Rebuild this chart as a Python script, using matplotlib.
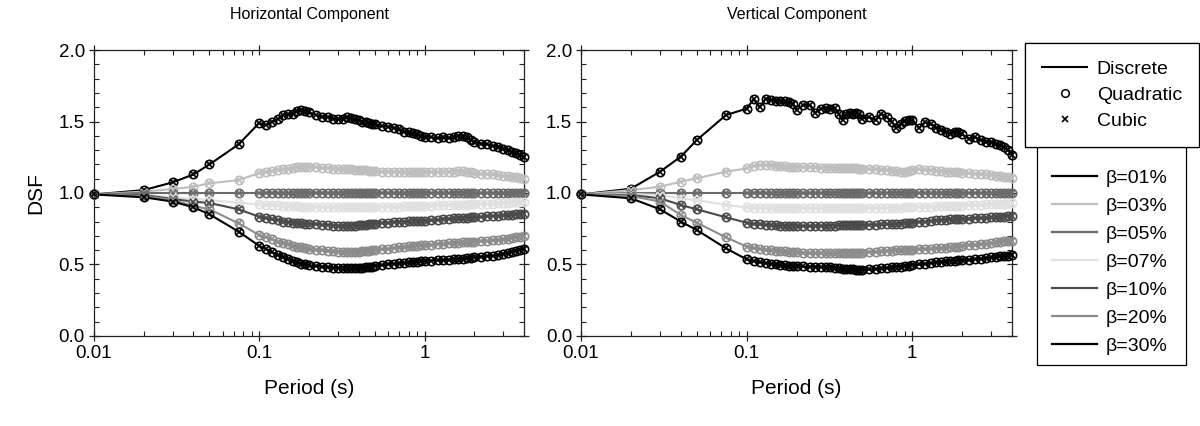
import matplotlib
matplotlib.use("Agg")
import matplotlib.pyplot as plt
from matplotlib.lines import Line2D
from matplotlib.patches import Rectangle
from matplotlib.ticker import FixedLocator, FixedFormatter, MultipleLocator, LogLocator, NullFormatter

plt.rcParams['font.family'] = ['Liberation Sans', 'DejaVu Sans']

# ---------------- data ----------------
periods = [0.01, 0.02, 0.03, 0.04, 0.05, 0.075,
           0.10, 0.11, 0.12, 0.13, 0.14, 0.15, 0.16, 0.17, 0.18, 0.19,
           0.20, 0.22, 0.24, 0.26, 0.28, 0.30, 0.32, 0.34, 0.36, 0.38,
           0.40, 0.42, 0.44, 0.46, 0.48, 0.50, 0.55, 0.60, 0.65, 0.70,
           0.75, 0.80, 0.85, 0.90, 0.95, 1.0, 1.1, 1.2, 1.3, 1.4,
           1.5, 1.6, 1.7, 1.8, 1.9, 2.0, 2.2, 2.4, 2.6, 2.8,
           3.0, 3.2, 3.4, 3.6, 3.8, 4.0]

damping_labels = ['β=01%', 'β=03%', 'β=05%', 'β=07%', 'β=10%', 'β=20%', 'β=30%']

# Horizontal component
h_b01 = [0.99, 1.02, 1.075, 1.13, 1.20, 1.34,
         1.49, 1.475, 1.50, 1.515, 1.545, 1.55, 1.555, 1.575, 1.58, 1.575,
         1.565, 1.545, 1.535, 1.53, 1.52, 1.515, 1.52, 1.53, 1.525, 1.515,
         1.51, 1.50, 1.50, 1.49, 1.485, 1.48, 1.47, 1.465, 1.455, 1.445,
         1.43, 1.425, 1.42, 1.41, 1.40, 1.395, 1.39, 1.385, 1.39, 1.385,
         1.39, 1.40, 1.40, 1.39, 1.37, 1.36, 1.345, 1.34, 1.33, 1.32,
         1.31, 1.30, 1.29, 1.28, 1.265, 1.255]
h_b03 = [0.99, 1.01, 1.028, 1.044, 1.068, 1.09,
         1.14, 1.15, 1.155, 1.16, 1.165, 1.17, 1.175, 1.18, 1.18, 1.18,
         1.18, 1.18, 1.175, 1.175, 1.17, 1.17, 1.17, 1.165, 1.165, 1.16,
         1.16, 1.16, 1.16, 1.155, 1.155, 1.155, 1.15, 1.15, 1.15, 1.15,
         1.145, 1.145, 1.145, 1.145, 1.145, 1.145, 1.145, 1.145, 1.15, 1.15,
         1.15, 1.155, 1.155, 1.15, 1.145, 1.14, 1.135, 1.13, 1.13, 1.125,
         1.12, 1.12, 1.115, 1.11, 1.105, 1.10]
h_b05 = [0.99, 1.0, 1.0, 1.0, 1.0, 1.0,
         1.0, 1.0, 1.0, 1.0, 1.0, 1.0, 1.0, 1.0, 1.0, 1.0,
         1.0, 1.0, 1.0, 1.0, 1.0, 1.0, 1.0, 1.0, 1.0, 1.0,
         1.0, 1.0, 1.0, 1.0, 1.0, 1.0, 1.0, 1.0, 1.0, 1.0,
         1.0, 1.0, 1.0, 1.0, 1.0, 1.0, 1.0, 1.0, 1.0, 1.0,
         1.0, 1.0, 1.0, 1.0, 1.0, 1.0, 1.0, 1.0, 1.0, 1.0,
         1.0, 1.0, 1.0, 1.0, 1.0, 1.0]
h_b07 = [0.99, 0.986, 0.97, 0.958, 0.951, 0.932,
         0.92, 0.918, 0.915, 0.913, 0.911, 0.91, 0.908, 0.906, 0.905, 0.904,
         0.903, 0.902, 0.901, 0.90, 0.90, 0.90, 0.90, 0.90, 0.90, 0.90,
         0.90, 0.90, 0.90, 0.90, 0.901, 0.902, 0.903, 0.904, 0.905, 0.905,
         0.906, 0.907, 0.908, 0.909, 0.91, 0.91, 0.912, 0.914, 0.915, 0.915,
         0.916, 0.917, 0.918, 0.919, 0.92, 0.92, 0.922, 0.924, 0.926, 0.928,
         0.93, 0.932, 0.934, 0.936, 0.938, 0.94]
h_b10 = [0.99, 0.986, 0.958, 0.94, 0.93, 0.886,
         0.834, 0.825, 0.815, 0.81, 0.80, 0.795, 0.792, 0.79, 0.788, 0.786,
         0.785, 0.782, 0.778, 0.775, 0.772, 0.77, 0.77, 0.77, 0.771, 0.772,
         0.775, 0.777, 0.779, 0.781, 0.783, 0.785, 0.79, 0.793, 0.796, 0.80,
         0.80, 0.801, 0.802, 0.803, 0.804, 0.805, 0.808, 0.812, 0.816, 0.82,
         0.822, 0.824, 0.826, 0.828, 0.829, 0.83, 0.833, 0.836, 0.839, 0.842,
         0.845, 0.847, 0.849, 0.851, 0.853, 0.855]
h_b20 = [0.99, 0.979, 0.951, 0.909, 0.886, 0.788,
         0.706, 0.69, 0.675, 0.66, 0.65, 0.64, 0.632, 0.625, 0.62, 0.615,
         0.61, 0.604, 0.599, 0.595, 0.592, 0.59, 0.589, 0.588, 0.588, 0.589,
         0.59, 0.592, 0.594, 0.596, 0.598, 0.60, 0.605, 0.61, 0.615, 0.62,
         0.623, 0.626, 0.629, 0.632, 0.634, 0.635, 0.638, 0.641, 0.644, 0.647,
         0.65, 0.652, 0.654, 0.656, 0.658, 0.66, 0.663, 0.666, 0.669, 0.672,
         0.675, 0.68, 0.685, 0.69, 0.695, 0.70]
h_b30 = [0.99, 0.97, 0.94, 0.90, 0.851, 0.73,
         0.63, 0.61, 0.585, 0.565, 0.55, 0.535, 0.525, 0.515, 0.505, 0.50,
         0.495, 0.49, 0.485, 0.48, 0.478, 0.475, 0.474, 0.474, 0.474, 0.475,
         0.475, 0.477, 0.479, 0.481, 0.485, 0.49, 0.495, 0.50, 0.505, 0.508,
         0.511, 0.515, 0.518, 0.52, 0.522, 0.525, 0.527, 0.529, 0.531, 0.533,
         0.535, 0.537, 0.54, 0.543, 0.546, 0.55, 0.555, 0.558, 0.562, 0.566,
         0.575, 0.582, 0.589, 0.596, 0.603, 0.61]

# Vertical component
v_b01 = [0.99, 1.03, 1.149, 1.254, 1.37, 1.545,
         1.59, 1.655, 1.60, 1.66, 1.65, 1.645, 1.645, 1.64, 1.635, 1.625,
         1.58, 1.615, 1.615, 1.56, 1.59, 1.595, 1.59, 1.595, 1.55, 1.51,
         1.555, 1.56, 1.555, 1.56, 1.55, 1.52, 1.53, 1.51, 1.555, 1.53,
         1.50, 1.455, 1.48, 1.505, 1.51, 1.51, 1.455, 1.495, 1.48, 1.455,
         1.44, 1.43, 1.415, 1.43, 1.43, 1.41, 1.38, 1.39, 1.37, 1.36,
         1.355, 1.34, 1.335, 1.32, 1.30, 1.265]
v_b03 = [0.99, 1.02, 1.044, 1.079, 1.103, 1.149,
         1.172, 1.19, 1.195, 1.196, 1.195, 1.19, 1.188, 1.186, 1.184, 1.182,
         1.18, 1.18, 1.18, 1.18, 1.178, 1.178, 1.176, 1.176, 1.175, 1.174,
         1.174, 1.173, 1.172, 1.172, 1.171, 1.17, 1.168, 1.165, 1.162, 1.16,
         1.156, 1.152, 1.15, 1.15, 1.152, 1.158, 1.165, 1.162, 1.158, 1.155,
         1.152, 1.15, 1.15, 1.148, 1.145, 1.142, 1.138, 1.135, 1.133, 1.13,
         1.126, 1.122, 1.118, 1.114, 1.11, 1.105]
v_b05 = [0.99, 1.0, 1.0, 1.0, 1.0, 1.0,
         1.0, 1.0, 1.0, 1.0, 1.0, 1.0, 1.0, 1.0, 1.0, 1.0,
         1.0, 1.0, 1.0, 1.0, 1.0, 1.0, 1.0, 1.0, 1.0, 1.0,
         1.0, 1.0, 1.0, 1.0, 1.0, 1.0, 1.0, 1.0, 1.0, 1.0,
         1.0, 1.0, 1.0, 1.0, 1.0, 1.0, 1.0, 1.0, 1.0, 1.0,
         1.0, 1.0, 1.0, 1.0, 1.0, 1.0, 1.0, 1.0, 1.0, 1.0,
         1.0, 1.0, 1.0, 1.0, 1.0, 1.0]
v_b07 = [0.99, 0.993, 0.986, 0.963, 0.951, 0.916,
         0.90, 0.898, 0.897, 0.896, 0.895, 0.894, 0.893, 0.893, 0.893, 0.893,
         0.893, 0.893, 0.893, 0.893, 0.893, 0.893, 0.893, 0.893, 0.893, 0.893,
         0.893, 0.893, 0.893, 0.893, 0.893, 0.893, 0.894, 0.894, 0.895, 0.896,
         0.897, 0.897, 0.898, 0.899, 0.90, 0.90, 0.90, 0.902, 0.904, 0.906,
         0.907, 0.908, 0.909, 0.91, 0.911, 0.912, 0.914, 0.916, 0.918, 0.92,
         0.922, 0.924, 0.925, 0.926, 0.927, 0.928]
v_b10 = [0.99, 0.986, 0.963, 0.916, 0.886, 0.83,
         0.792, 0.785, 0.78, 0.778, 0.776, 0.774, 0.772, 0.771, 0.77, 0.77,
         0.769, 0.769, 0.769, 0.77, 0.77, 0.77, 0.771, 0.772, 0.773, 0.774,
         0.775, 0.776, 0.776, 0.776, 0.776, 0.777, 0.778, 0.779, 0.78, 0.781,
         0.782, 0.783, 0.785, 0.787, 0.79, 0.793, 0.796, 0.80, 0.804, 0.808,
         0.811, 0.813, 0.815, 0.816, 0.818, 0.819, 0.821, 0.823, 0.825, 0.827,
         0.829, 0.831, 0.833, 0.835, 0.837, 0.839]
v_b20 = [0.99, 0.979, 0.94, 0.846, 0.792, 0.69,
         0.625, 0.615, 0.608, 0.603, 0.60, 0.597, 0.594, 0.591, 0.588, 0.586,
         0.584, 0.582, 0.58, 0.579, 0.578, 0.578, 0.578, 0.578, 0.578, 0.578,
         0.578, 0.579, 0.58, 0.581, 0.582, 0.583, 0.586, 0.589, 0.592, 0.595,
         0.597, 0.599, 0.60, 0.601, 0.602, 0.603, 0.605, 0.608, 0.611, 0.614,
         0.615, 0.617, 0.619, 0.622, 0.625, 0.628, 0.633, 0.638, 0.642, 0.646,
         0.65, 0.654, 0.658, 0.661, 0.664, 0.666]
v_b30 = [0.99, 0.963, 0.886, 0.80, 0.741, 0.613,
         0.536, 0.525, 0.515, 0.51, 0.505, 0.50, 0.497, 0.494, 0.492, 0.49,
         0.488, 0.486, 0.485, 0.484, 0.483, 0.482, 0.479, 0.476, 0.473, 0.47,
         0.468, 0.466, 0.465, 0.464, 0.463, 0.463, 0.465, 0.468, 0.472, 0.476,
         0.48, 0.483, 0.485, 0.487, 0.49, 0.495, 0.50, 0.505, 0.51, 0.515,
         0.52, 0.522, 0.524, 0.526, 0.528, 0.531, 0.533, 0.536, 0.54, 0.545,
         0.55, 0.553, 0.556, 0.559, 0.562, 0.566]

horizontal_series = [h_b01, h_b03, h_b05, h_b07, h_b10, h_b20, h_b30]
vertical_series = [v_b01, v_b03, v_b05, v_b07, v_b10, v_b20, v_b30]

x_ticks = [0.01, 0.1, 1]
x_tick_labels = ['0.01', '0.1', '1']
y_ticks = [0.0, 0.5, 1.0, 1.5, 2.0]
y_tick_labels = ['0.0', '0.5', '1.0', '1.5', '2.0']
panel_titles = ['Horizontal Component', 'Vertical Component']

# ---------------- style ----------------
colors = ['#000000', '#bebebe', '#6a6a6a', '#e0e0e0', '#4a4a4a', '#8c8c8c', '#000000']

fig = plt.figure(figsize=(12, 4.26), dpi=100)
ax1 = fig.add_axes([0.0783, 0.2113, 0.3584, 0.6713])
ax2 = fig.add_axes([0.4842, 0.2113, 0.3591, 0.6713])

for ax, series, title in zip([ax1, ax2], [horizontal_series, vertical_series], panel_titles):
    for vals, col in zip(series, colors):
        ax.plot(periods, vals, '-', color=col, lw=1.5, zorder=2)
        ax.plot(periods, vals, 'o', ms=6, mfc='none', mec=col, mew=1.2,
                clip_on=False, zorder=3)
        ax.plot(periods, vals, 'x', ms=4.5, mec=col, mew=1.2, clip_on=False, zorder=4)
    ax.set_xscale('log')
    ax.set_xlim(0.01, 4.0)
    ax.set_ylim(0.0, 2.0)
    ax.xaxis.set_major_locator(FixedLocator(x_ticks))
    ax.xaxis.set_major_formatter(FixedFormatter(x_tick_labels))
    ax.xaxis.set_minor_locator(LogLocator(base=10, subs=range(2, 10)))
    ax.xaxis.set_minor_formatter(NullFormatter())
    ax.yaxis.set_major_locator(FixedLocator(y_ticks))
    ax.yaxis.set_major_formatter(FixedFormatter(y_tick_labels))
    ax.yaxis.set_minor_locator(MultipleLocator(0.1))
    ax.tick_params(which='major', direction='inout', length=7, width=0.9,
                   top=True, right=True, labelsize=13.5, pad=3, colors='#222222', labelcolor='black')
    ax.tick_params(which='minor', direction='in', length=3.5, width=0.8,
                   top=True, right=True, colors='#222222')
    for sp in ax.spines.values():
        sp.set_linewidth(0.9)
        sp.set_color('#222222')
    ax.set_title(title, fontsize=11.5, pad=22)
    ax.set_xlabel('Period (s)', fontsize=15, labelpad=12)

ax1.set_ylabel('DSF', fontsize=15, labelpad=10)

# Legends
method_handles = [Line2D([], [], color='black', lw=1.5),
                  Line2D([], [], ls='none', marker='o', ms=5.5, mfc='none', mec='black', mew=1.1),
                  Line2D([], [], ls='none', marker='x', ms=4.5, mec='black', mew=1.2)]
method_labels = ['Discrete', 'Quadratic', 'Cubic']
leg1 = fig.legend(method_handles, method_labels, loc='upper left',
                  bbox_to_anchor=(0.854, 0.899), fontsize=14, frameon=True,
                  fancybox=False, edgecolor='black', framealpha=1,
                  handlelength=2.3, labelspacing=0.42, borderpad=0.9,
                  handletextpad=0.5, borderaxespad=0)
leg1.get_frame().set_linewidth(0.9)
leg1.set_zorder(10)

# frame of the damping legend
fig.add_artist(Rectangle((0.8642, 0.1432), 0.1242, 0.514, transform=fig.transFigure,
                         fill=False, edgecolor='black', linewidth=0.9, zorder=5))

damp_handles = [Line2D([], [], color=c, lw=1.6) for c in colors]
leg2 = fig.legend(damp_handles, damping_labels, loc='upper left',
                  bbox_to_anchor=(0.8767, 0.602), fontsize=14, frameon=False,
                  handlelength=2.3, labelspacing=0.53, borderpad=0,
                  handletextpad=0.46, borderaxespad=0)
leg2.set_zorder(6)
fig.add_artist(leg1)

fig.savefig('out.png', dpi=100)
